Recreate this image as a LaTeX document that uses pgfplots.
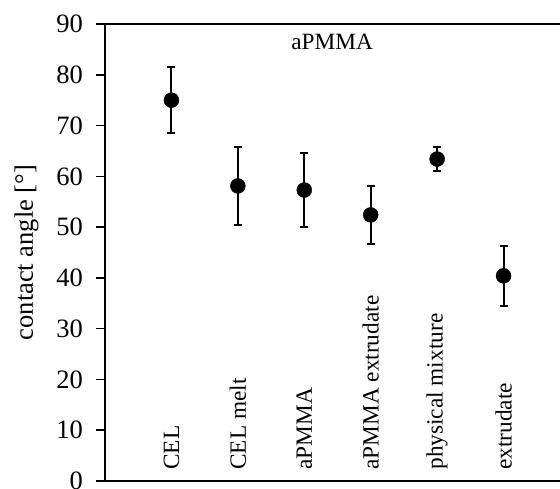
\documentclass[border=0pt]{standalone}
\usepackage{pgfplots}
\pgfplotsset{compat=1.18}
\usepackage{fontspec}
\setmainfont{Liberation Serif}
\begin{document}
\begin{tikzpicture}
\begin{axis}[
  name=ax,
  scale only axis, width=455pt, height=457pt,
  xmin=0, xmax=6.85, ymin=0, ymax=90,
  ytick={0,10,...,90}, xtick=\empty,
  separate axis lines,
  axis x line*=box, axis y line*=left,
  axis line style={line width=2pt, black},
  tick align=outside, major tick length=8.5pt,
  ytick style={line width=1.5pt, black},
  /pgf/number format/assume math mode=true,
  tick label style={font=\fontsize{26.5}{30}\selectfont},
  yticklabel style={inner sep=0pt, xshift=-13.5pt},
  clip=false,
]
\addplot[only marks, mark=*, mark size=7.5pt, black,
  error bars/.cd, y dir=both, y explicit,
  error bar style={line width=2pt, black},
  error mark options={rotate=90, mark size=4pt, line width=2pt, black}]
  table[x=x, y=y, y error=e] {
x y e
1 75.0 6.5
2 58.1 7.75
3 57.3 7.25
4 52.4 5.65
5 63.4 2.3
6 40.4 5.95
};
\begin{scope}[every node/.style={rotate=90, anchor=west, inner sep=0pt, font=\fontsize{23.3}{26}\selectfont}]
\node at (axis cs:1,2.2) {CEL};
\node at (axis cs:2,2.2) {CEL melt};
\node at (axis cs:3,2.2) {aPMMA};
\node at (axis cs:4,2.2) {aPMMA extrudate};
\node at (axis cs:5,2.2) {physical mixture};
\node at (axis cs:6,2.2) {extrudate};
\end{scope}
\node[anchor=base, inner sep=0pt, font=\fontsize{23.3}{26}\selectfont] at (axis cs:3.42,84.9) {aPMMA};
\end{axis}
\node[rotate=90, anchor=base, inner sep=0pt, font=\fontsize{26.5}{30}\selectfont] at ([xshift=-72pt]ax.west) {contact angle [°]};
\pgfresetboundingbox
\path[use as bounding box] ([xshift=-105pt, yshift=-8pt]ax.south west) rectangle ([yshift=24pt]ax.north east);
\end{tikzpicture}
\end{document}
